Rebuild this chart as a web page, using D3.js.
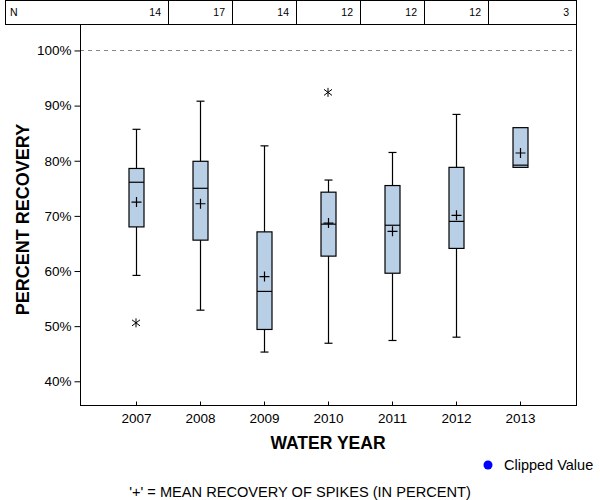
<!DOCTYPE html>
<html><head><meta charset="utf-8">
<script src="https://cdn.jsdelivr.net/npm/d3@7"></script>
<style>body{margin:0;background:#fff}svg{display:block;font-family:"Liberation Sans",Arial,sans-serif}</style>
</head><body><svg id="c" width="600" height="500"></svg>
<script>
const years = ["2007","2008","2009","2010","2011","2012","2013"];
const nCounts = [14,17,14,12,12,12,3];
const whiskerLow  = [59.2, 52.9, 45.3, 46.9, 47.4, 48.0, 78.8];
const q1          = [68.0, 65.6, 49.4, 62.7, 59.6, 64.1, 78.8];
const median      = [76.1, 75.0, 56.3, 68.5, 68.3, 69.0, 79.2];
const q3          = [78.6, 79.9, 67.1, 74.3, 75.5, 78.8, 86.0];
const whiskerHigh = [85.7, 90.8, 82.7, 76.5, 81.5, 88.4, 86.0];
const means       = [72.5, 72.2, 59.0, 68.7, 67.2, 70.1, 81.4];
const outlierYears  = ["2007","2010"];
const outlierValues = [50.6, 92.4];
const yTicks = [40,50,60,70,80,90,100];

const svg = d3.select("#c");
const L = 80, R = 576, T = 24, B = 405;
const x = d3.scalePoint().domain(years).range([L, R]).padding(0.875);
const y = d3.scaleLinear().domain([35.7, 104.8]).range([B, T]);
const step = x.step();

// reference line at 100%
svg.append("line").attr("x1", L).attr("x2", R).attr("y1", Math.round(y(100))+0.5).attr("y2", Math.round(y(100))+0.5)
  .attr("stroke", "#888").attr("stroke-dasharray", "4,4");

// N table
const tbl = svg.append("g");
const tTop = 0.5, tBot = 24.5;
const edges = [5].concat(years.slice(0,-1).map(d => x(d) + step/2)).concat([R]);
tbl.append("rect").attr("x", 5.5).attr("y", tTop).attr("width", R - 5).attr("height", tBot - tTop)
  .attr("fill", "none").attr("stroke", "#000");
edges.slice(1,-1).forEach(e => tbl.append("line").attr("x1", Math.round(e)+0.5).attr("x2", Math.round(e)+0.5)
  .attr("y1", tTop).attr("y2", tBot).attr("stroke", "#000"));
tbl.append("text").attr("x", 10).attr("y", 16).attr("font-size", 10.5).text("N");
years.forEach((yr, i) => {
  tbl.append("text").attr("x", edges[i+1] - 7).attr("y", 16).attr("font-size", 10.5)
    .attr("text-anchor", "end").text(nCounts[i]);
});

// frame
svg.append("line").attr("x1", L+0.5).attr("x2", L+0.5).attr("y1", T).attr("y2", B+1).attr("stroke", "#000");
svg.append("line").attr("x1", R+0.5).attr("x2", R+0.5).attr("y1", T).attr("y2", B+1).attr("stroke", "#000");

// y axis
const yAxis = svg.append("g").attr("transform", `translate(${L+0.5},0)`)
  .call(d3.axisLeft(y).tickValues(yTicks).tickSize(6).tickPadding(3).tickFormat(d => d + "%"));
yAxis.select(".domain").remove();
yAxis.selectAll("text").attr("font-size", 13.5).attr("font-family", "Liberation Sans, Arial, sans-serif").attr("fill", "#000");
yAxis.selectAll("line").attr("stroke", "#000");

// x axis (ticks inward)
const xAxis = svg.append("g").attr("transform", `translate(0,${B+0.5})`)
  .call(d3.axisBottom(x).tickSize(-4).tickPadding(8));
xAxis.select(".domain").attr("d", `M${L},0H${R+1}`).attr("stroke", "#000");
xAxis.selectAll("text").attr("font-size", 13.5).attr("font-family", "Liberation Sans, Arial, sans-serif").attr("fill", "#000");
xAxis.selectAll("line").attr("stroke", "#000");

// boxes
const bw = 15, cap = 8;
const g = svg.append("g").attr("stroke", "#000").attr("stroke-width", 1.2);
years.forEach((yr, i) => {
  const cx = Math.round(x(yr)) + 0.5;
  if (whiskerHigh[i] > q3[i]) {
    g.append("line").attr("x1", cx).attr("x2", cx).attr("y1", y(whiskerHigh[i])).attr("y2", y(q3[i]));
    g.append("line").attr("x1", cx - cap/2).attr("x2", cx + cap/2).attr("y1", y(whiskerHigh[i])).attr("y2", y(whiskerHigh[i]));
  }
  if (whiskerLow[i] < q1[i]) {
    g.append("line").attr("x1", cx).attr("x2", cx).attr("y1", y(q1[i])).attr("y2", y(whiskerLow[i]));
    g.append("line").attr("x1", cx - cap/2).attr("x2", cx + cap/2).attr("y1", y(whiskerLow[i])).attr("y2", y(whiskerLow[i]));
  }
  g.append("rect").attr("x", cx - bw/2).attr("width", bw).attr("y", y(q3[i])).attr("height", y(q1[i]) - y(q3[i]))
    .attr("fill", "#b9cfe6");
  g.append("line").attr("x1", cx - bw/2).attr("x2", cx + bw/2).attr("y1", y(median[i])).attr("y2", y(median[i]));
  const my = y(means[i]);
  g.append("path").attr("d", `M${cx-5},${my}H${cx+5}M${cx},${my-5}V${my+5}`);
});

// outliers (asterisk)
outlierYears.forEach((yr, i) => {
  const cx = x(yr), cy = y(outlierValues[i]);
  g.append("path").attr("stroke-width", 1)
    .attr("d", `M${cx-4},${cy-3}L${cx+4},${cy+3}M${cx-4},${cy+3}L${cx+4},${cy-3}M${cx},${cy-4.5}V${cy+4.5}`);
});

// titles
svg.append("text").attr("x", (L + R)/2).attr("y", 449).attr("text-anchor", "middle")
  .attr("font-size", 17.5).attr("font-weight", "bold").text("WATER YEAR");
svg.append("text").attr("transform", `translate(29,${(T+B)/2 + 5}) rotate(-90)`).attr("text-anchor", "middle")
  .attr("font-size", 18).attr("font-weight", "bold").text("PERCENT RECOVERY");

// legend
svg.append("circle").attr("cx", 488).attr("cy", 465).attr("r", 4.5).attr("fill", "#0000ff");
svg.append("text").attr("x", 504).attr("y", 470).attr("font-size", 14.5).text("Clipped Value");
svg.append("text").attr("x", 300).attr("y", 497).attr("text-anchor", "middle").attr("font-size", 14.6)
  .text("'+' = MEAN RECOVERY OF SPIKES (IN PERCENT)");
</script></body></html>
